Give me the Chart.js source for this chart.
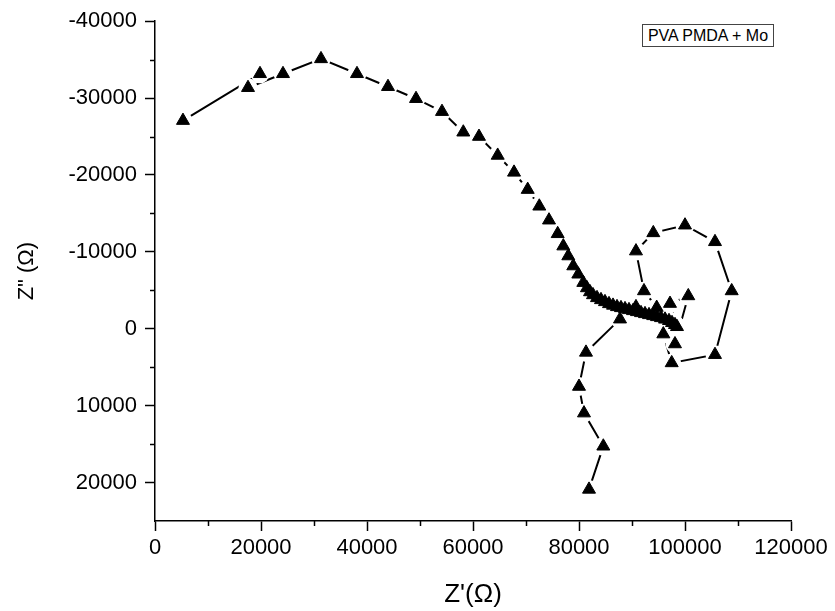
<!DOCTYPE html>
<html><head><meta charset="utf-8">
<script src="https://cdn.jsdelivr.net/npm/chart.js@4.4.1/dist/chart.umd.min.js"></script>
<style>
html,body{margin:0;padding:0;background:#fff;}
#wrap{position:relative;width:835px;height:611px;}
#legend{position:absolute;left:642px;top:24px;width:132px;height:23px;border:1px solid #444;font:16px "Liberation Sans",Arial,sans-serif;line-height:21px;text-align:center;white-space:nowrap;box-sizing:border-box;color:#000;background:#fff;}
</style></head><body>
<div id="wrap"><canvas id="c" width="835" height="611"></canvas><div id="legend"></div></div>
<script>
const seriesName = 'PVA PMDA + Mo';
const xTitle = "Z'(\u03A9)";
const yTitle = 'Z" (\u03A9)';
const zReal = [5280, 19810, 17550, 24150, 31320, 38110, 43960, 49250, 54150, 58170,
  61130, 64660, 67740, 70320, 72510, 74340, 75980, 77040, 77980, 78920,
  79870, 80810, 81500, 82080, 82640, 83400, 84150, 84900, 85660, 86420,
  87170, 87920, 88680, 89430, 90190, 90940, 91700, 92450, 93210, 94000,
  94720, 95470, 96230, 96980, 97550, 98110, 98490, 97170, 100620, 98110,
  95910, 97490, 105660, 108810, 105660, 100000, 94020, 90750, 92260, 94660,
  90750, 87740, 81320, 80000, 80940, 84590, 81890];
const zImag = [-27070, -33160, -31350, -33160, -35100, -33160, -31480, -29920, -28240, -25560,
  -25000, -22540, -20340, -18100, -15930, -14120, -12350, -10750, -9460, -8160,
  -7090, -6000, -5310, -4790, -4400, -4020, -3760, -3500, -3240, -3040,
  -2850, -2720, -2590, -2460, -2330, -2200, -2070, -1940, -1810, -1680,
  -1550, -1420, -1230, -1040, -780, -520, -260, -3280, -4270, 1980,
  690, 4440, 3370, -4920, -11310, -13470, -12470, -10100, -4920, -2760,
  -2850, -1250, 3070, 7510, 10970, 15280, 20890];
const xTicks = [0, 20000, 40000, 60000, 80000, 100000, 120000];
const xMinorTicks = [10000, 30000, 50000, 70000, 90000, 110000];
const yTicks = [-40000, -30000, -20000, -10000, 0, 10000, 20000];
const yMinorTicks = [-35000, -25000, -15000, -5000, 5000, 15000];

document.getElementById('legend').textContent = seriesName;

const points = zReal.map((v, i) => ({x: v, y: zImag[i]}));
const tickFont = {family: '"Liberation Sans", Arial, sans-serif', size: 22};
const xTitleFont = {family: '"Liberation Sans", Arial, sans-serif', size: 26};
const yTitleFont = {family: '"Liberation Sans", Arial, sans-serif', size: 22};

const minorTicksPlugin = {
  id: 'minorTicks',
  afterDraw(chart) {
    const {ctx, scales: {x, y}} = chart;
    ctx.save();
    ctx.strokeStyle = '#000';
    ctx.lineWidth = 1.5;
    xMinorTicks.forEach(v => {
      const px = Math.round(x.getPixelForValue(v)) + 0.5;
      ctx.beginPath(); ctx.moveTo(px, x.top); ctx.lineTo(px, x.top + 5); ctx.stroke();
    });
    yMinorTicks.forEach(v => {
      const py = Math.round(y.getPixelForValue(v)) + 0.5;
      ctx.beginPath(); ctx.moveTo(y.right, py); ctx.lineTo(y.right - 5, py); ctx.stroke();
    });
    ctx.restore();
  }
};

new Chart(document.getElementById('c'), {
  type: 'scatter',
  data: {datasets: [
    {
      label: seriesName,
      data: points,
      showLine: true,
      borderColor: '#000',
      borderWidth: 2,
      tension: 0,
      pointRadius: 0,
      order: 3
    },
    {
      label: 'gap',
      data: points,
      showLine: false,
      pointStyle: 'circle',
      pointRadius: 9.5,
      pointBackgroundColor: '#fff',
      pointBorderColor: '#fff',
      pointBorderWidth: 0,
      order: 2
    },
    {
      label: seriesName + ' symbols',
      data: points,
      showLine: false,
      pointStyle: 'triangle',
      pointRadius: 7.5,
      pointBackgroundColor: '#000',
      pointBorderColor: '#000',
      pointBorderWidth: 1,
      order: 1
    }
  ]},
  options: {
    responsive: false,
    animation: false,
    devicePixelRatio: 1,
    layout: {padding: {left: 0, top: 20, right: 44, bottom: 0}},
    plugins: {legend: {display: false}, tooltip: {enabled: false}},
    scales: {
      x: {
        type: 'linear', position: 'bottom', min: 0, max: 120000,
        afterBuildTicks: s => { s.ticks = xTicks.map(v => ({value: v})); },
        afterFit: s => { s.height = 90; },
        ticks: {color: '#000', font: tickFont, padding: 4, maxRotation: 0, autoSkip: false, callback: v => String(v)},
        grid: {display: true, drawOnChartArea: false, drawTicks: true, tickLength: 10, tickColor: '#000', tickWidth: 1.5},
        border: {display: true, color: '#000', width: 1.5},
        title: {display: true, text: xTitle, color: '#000', font: xTitleFont, padding: {top: 0, bottom: 1}}
      },
      y: {
        type: 'linear', position: 'left', min: -40000, max: 25000, reverse: true,
        afterBuildTicks: s => { s.ticks = yTicks.map(v => ({value: v})); },
        afterFit: s => { s.width = 155; },
        ticks: {color: '#000', font: tickFont, padding: 8, autoSkip: false, callback: v => String(v)},
        grid: {display: true, drawOnChartArea: false, drawTicks: true, tickLength: 10, tickColor: '#000', tickWidth: 1.5},
        border: {display: true, color: '#000', width: 1.5},
        title: {display: true, text: yTitle, color: '#000', font: yTitleFont, padding: {top: 14, bottom: 0}}
      }
    }
  },
  plugins: [minorTicksPlugin]
});
</script>
</body></html>
